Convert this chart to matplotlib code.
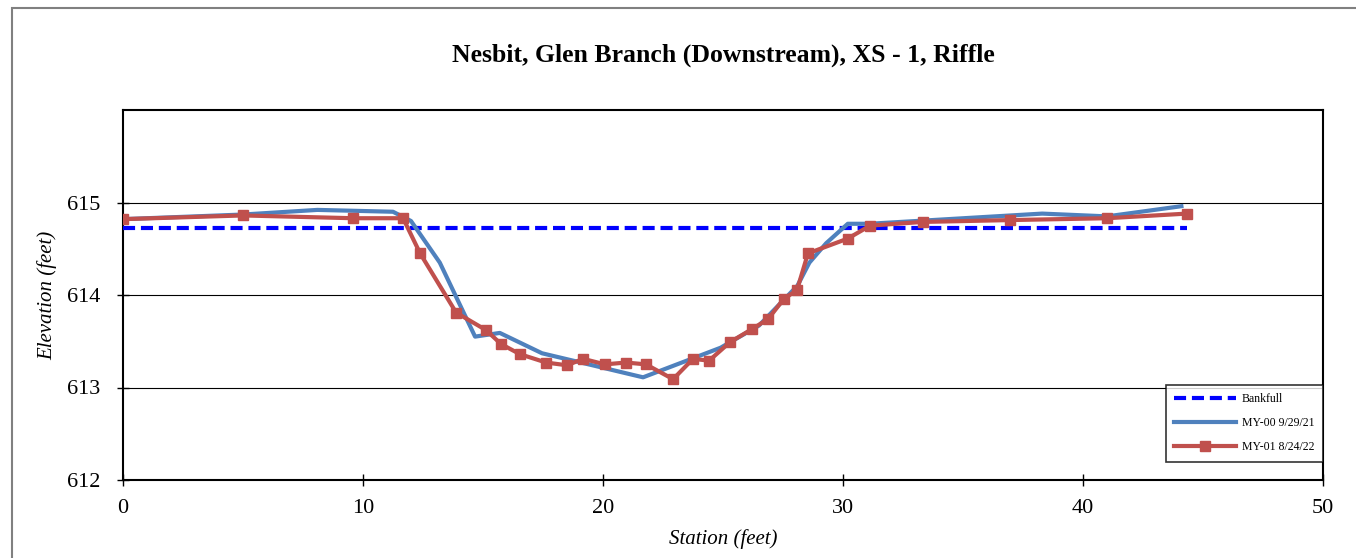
import matplotlib.pyplot as plt
from matplotlib.patches import Rectangle

plt.rcParams['font.family'] = ['Liberation Serif', 'DejaVu Serif']

# survey data (station ft, elevation ft)
bankfull_x = [0, 44.33]
bankfull_y = [614.72, 614.72]

my00_x = [0, 5.0, 8.1, 11.25, 12.0, 13.2, 14.67, 15.7, 17.46, 21.67,
          24.9, 26.5, 28.1, 28.6, 29.3, 30.2, 31.1, 38.3, 41.0, 44.1]
my00_y = [614.82, 614.87, 614.92, 614.90, 614.80, 614.35, 613.55, 613.59, 613.37, 613.11,
          613.43, 613.67, 614.10, 614.35, 614.56, 614.77, 614.77, 614.88, 614.85, 614.96]

my01_x = [0, 5.0, 9.58, 11.67, 12.38, 13.88, 15.13, 15.75, 16.54, 17.63,
          18.5, 19.17, 20.08, 20.96, 21.79, 22.92, 23.75, 24.42, 25.29, 26.2,
          26.88, 27.54, 28.08, 28.54, 30.2, 31.13, 33.33, 36.96, 41.0, 44.33]
my01_y = [614.82, 614.86, 614.83, 614.83, 614.45, 613.81, 613.62, 613.47, 613.36, 613.27,
          613.24, 613.31, 613.25, 613.27, 613.25, 613.09, 613.31, 613.29, 613.49, 613.63,
          613.74, 613.96, 614.05, 614.45, 614.61, 614.75, 614.79, 614.81, 614.83, 614.88]

fig = plt.figure(figsize=(13.56, 5.58), dpi=100)
ax = fig.add_axes([123/1356, 1 - 480/558, 1200/1356, 370/558])

# chart-area border (only top/left visible in crop)
fig.patches.append(Rectangle((12/1356, -0.1), 1.2, 1 - 8/558 + 0.1,
                             transform=fig.transFigure, fill=False,
                             edgecolor='#808080', linewidth=1.5))

ax.plot(bankfull_x, bankfull_y, color='#0000FF', linestyle=(0, (2.9, 1.4)),
        linewidth=3, label='Bankfull', zorder=3)
ax.plot(my00_x, my00_y, color='#4F81BD', linewidth=3, label='MY-00 9/29/21', zorder=4)
ax.plot(my01_x, my01_y, color='#C0504D', linewidth=3, marker='s', markersize=7.5,
        label='MY-01 8/24/22', zorder=5)

ax.set_xlim(0, 50)
ax.set_ylim(612, 616)
ax.set_xticks(range(0, 51, 10))
ax.set_yticks([612, 613, 614, 615])
ax.yaxis.grid(True, color='black', linewidth=0.8)
ax.set_axisbelow(True)
ax.tick_params(direction='inout', length=9, width=1, labelsize=16, colors='black')
ax.tick_params(axis='x', pad=9)
ax.tick_params(axis='y', pad=12)
for s in ax.spines.values():
    s.set_linewidth(1.5)
    s.set_color('black')

ax.set_xlabel('Station (feet)', fontsize=15, style='italic', labelpad=8)
ax.set_ylabel('Elevation (feet)', fontsize=15, style='italic', labelpad=7)
ax.set_title('Nesbit, Glen Branch (Downstream), XS - 1, Riffle',
             fontsize=18.5, fontweight='bold', pad=35)

leg = ax.legend(loc='lower right', bbox_to_anchor=(1.0, 0.049), fontsize=8.5,
                frameon=True, fancybox=False, edgecolor='black', handlelength=5.2,
                labelspacing=1.0, borderpad=0.75, borderaxespad=0, handletextpad=0.5)
leg.get_frame().set_linewidth(1.2)

fig.savefig('out.png', dpi=100)
